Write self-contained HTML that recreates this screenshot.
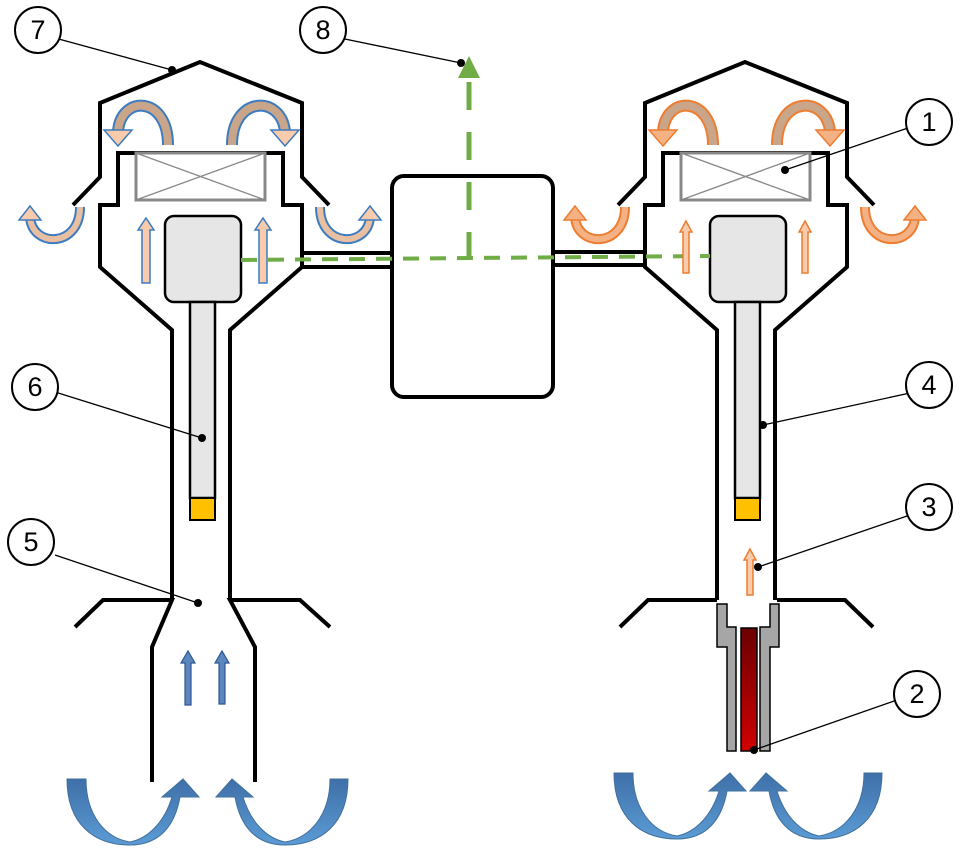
<!DOCTYPE html>
<html><head><meta charset="utf-8"><style>html,body{margin:0;padding:0;background:#fff}svg{display:block}</style></head>
<body>
<svg width="960" height="856" viewBox="0 0 960 856" xmlns="http://www.w3.org/2000/svg" font-family="Liberation Sans, sans-serif">
<defs>
<linearGradient id="red" x1="0" y1="0" x2="0" y2="1"><stop offset="0" stop-color="#6b0000"/><stop offset="1" stop-color="#d00000"/></linearGradient>
<linearGradient id="bl" x1="0" y1="0" x2="0" y2="1"><stop offset="0" stop-color="#3f6fa8"/><stop offset="1" stop-color="#5b9bd5"/></linearGradient>
<g id="unit" fill="none" stroke="#000" stroke-width="4" stroke-linejoin="miter">
  <polyline points="73,205 100,177 100,103 200,62 302,103 302,177 329,205"/>
  <polyline points="172,600 172,330 100,267 100,205 118,205 118,153 283,153 283,205 302,205 302,267 230,330 230,600"/>
</g>
<g id="filt">
  <rect x="136" y="153" width="129" height="47" fill="#fff" stroke="#888" stroke-width="3"/>
  <path d="M136,153 L265,200 M265,153 L136,200" stroke="#888" stroke-width="1.3"/>
  <rect x="165" y="216" width="76" height="86" rx="9" fill="#e6e6e6" stroke="#000" stroke-width="2.5"/>
  <rect x="190" y="302" width="25" height="196" fill="#e6e6e6" stroke="#000" stroke-width="2.5"/>
  <rect x="190" y="498" width="25" height="22" fill="#ffc000" stroke="#000" stroke-width="2"/>
</g>
<path id="bA" fill="url(#bl)" stroke="#41719c" stroke-width="1" d="M67,779 C67,825 95,845 130,845 C160,845 175,825 180,797 L199,797 L183,779 L162,797 L172,797 C165,820 150,838 130,842 C105,838 86,815 86,779 Z"/>
<path id="bB" fill="url(#bl)" stroke="#41719c" stroke-width="1" d="M348,779 C348,825 320,845 285,845 C255,845 240,825 235,797 L216,797 L232,779 L253,797 L243,797 C250,820 265,838 285,842 C310,838 330,815 330,779 Z"/>
</defs>

<use href="#unit"/>
<use href="#filt"/>
<use href="#unit" transform="translate(545,0)"/>
<use href="#filt" transform="translate(545,0)"/>

<g fill="none" stroke="#000" stroke-width="4">
<polyline points="75,627 103,600 172,600 152,647 152,782"/>
<polyline points="330,627 300,600 230,600 255,647 255,782"/>
<polyline points="620,627 648,600 717,600"/>
<polyline points="873,627 845,600 777,600"/>
<line x1="302" y1="253" x2="392" y2="253"/><line x1="302" y1="267" x2="392" y2="267"/>
<line x1="553" y1="252" x2="645" y2="252"/><line x1="553" y1="265" x2="645" y2="265"/>
<rect x="392" y="176" width="161" height="221" rx="12" fill="#fff"/>
</g>

<g fill="#a6a6a6" stroke="#000" stroke-width="1.5">
<polygon points="717,604 727,604 727,627 736,627 736,751 727,751 727,647 717,647"/>
<polygon points="779,604 770,604 770,627 760,627 760,751 770,751 770,647 779,647"/>
</g>
<rect x="741" y="628" width="16" height="123" fill="url(#red)" stroke="#000" stroke-width="1.5"/>

<g stroke="#70ad47" stroke-width="5" fill="none">
<line x1="241" y1="260" x2="710" y2="256" stroke-dasharray="16,11" stroke-width="4"/>
<line x1="469" y1="260" x2="469" y2="76" stroke-dasharray="28,22"/>
</g>
<polygon points="469,56 458,78 480,78" fill="#70ad47"/>

<g>
<path d="M168,145 C168,95 120,95 118,132" fill="none" stroke="#3d7cc0" stroke-width="12"/>
<path d="M168,145 C168,95 120,95 118,132" fill="none" stroke="#c9a58a" stroke-width="8"/>
<polygon points="104,130 132,130 118,146" fill="#f8cbad" stroke="#3d7cc0" stroke-width="1.5"/>
<path d="M232,145 C232,95 282,95 285,132" fill="none" stroke="#3d7cc0" stroke-width="12"/>
<path d="M232,145 C232,95 282,95 285,132" fill="none" stroke="#c9a58a" stroke-width="8"/>
<polygon points="271,130 299,130 285,146" fill="#f8cbad" stroke="#3d7cc0" stroke-width="1.5"/>
<path d="M80,207 C80,248 32,248 30,217" fill="none" stroke="#3d7cc0" stroke-width="10"/>
<path d="M80,207 C80,248 32,248 30,217" fill="none" stroke="#e8bfa0" stroke-width="6"/>
<polygon points="19,220 30,206 41,220" fill="#f8cbad" stroke="#3d7cc0" stroke-width="1.5"/>
<path d="M320,207 C320,248 368,248 370,217" fill="none" stroke="#3d7cc0" stroke-width="10"/>
<path d="M320,207 C320,248 368,248 370,217" fill="none" stroke="#e8bfa0" stroke-width="6"/>
<polygon points="359,220 370,206 381,220" fill="#f8cbad" stroke="#3d7cc0" stroke-width="1.5"/>
<g fill="#f8cbad" stroke="#3d7cc0" stroke-width="1.5">
<polygon points="142,283 142,230 138,230 146,218 154,230 150,230 150,283"/>
<polygon points="259,283 259,230 255,230 263,218 271,230 267,230 267,283"/>
</g>
<g fill="#5b87bd" stroke="#2f5597" stroke-width="1.2">
<polygon points="185,705 185,663 181,663 188,651 195,663 191,663 191,705"/>
<polygon points="219,704 219,663 215,663 222,651 229,663 225,663 225,704"/>
</g>
</g>

<g transform="translate(545,0)">
<path d="M168,145 C168,95 120,95 118,132" fill="none" stroke="#ed7d31" stroke-width="12"/>
<path d="M168,145 C168,95 120,95 118,132" fill="none" stroke="#c9a58a" stroke-width="8"/>
<polygon points="104,130 132,130 118,146" fill="#f4b183" stroke="#ed7d31" stroke-width="1.5"/>
<path d="M232,145 C232,95 282,95 285,132" fill="none" stroke="#ed7d31" stroke-width="12"/>
<path d="M232,145 C232,95 282,95 285,132" fill="none" stroke="#c9a58a" stroke-width="8"/>
<polygon points="271,130 299,130 285,146" fill="#f4b183" stroke="#ed7d31" stroke-width="1.5"/>
<path d="M80,207 C80,248 32,248 30,217" fill="none" stroke="#ed7d31" stroke-width="10"/>
<path d="M80,207 C80,248 32,248 30,217" fill="none" stroke="#f4b183" stroke-width="6"/>
<polygon points="19,220 30,206 41,220" fill="#f4b183" stroke="#ed7d31" stroke-width="1.5"/>
<path d="M320,207 C320,248 368,248 370,217" fill="none" stroke="#ed7d31" stroke-width="10"/>
<path d="M320,207 C320,248 368,248 370,217" fill="none" stroke="#f4b183" stroke-width="6"/>
<polygon points="359,220 370,206 381,220" fill="#f4b183" stroke="#ed7d31" stroke-width="1.5"/>
<g fill="#f8cbad" stroke="#ed7d31" stroke-width="1.5">
<polygon points="138,273 138,232 135,232 141,221 147,232 144,232 144,273"/>
<polygon points="257,273 257,232 254,232 260,221 266,232 263,232 263,273"/>
<polygon points="202,595 202,560 199,560 205,549 211,560 208,560 208,595"/>
</g>
</g>

<use href="#bA"/>
<use href="#bB"/>
<use href="#bA" transform="translate(547,-6)"/>
<use href="#bB" transform="translate(534,-6)"/>

<g stroke="#000" stroke-width="1.3">
<line x1="55" y1="38" x2="172" y2="70"/>
<line x1="340" y1="38" x2="461" y2="63"/>
<line x1="908" y1="128" x2="785" y2="170"/>
<line x1="910" y1="393" x2="763" y2="425"/>
<line x1="910" y1="515" x2="758" y2="567"/>
<line x1="897" y1="700" x2="754" y2="750"/>
<line x1="55" y1="392" x2="202" y2="438"/>
<line x1="55" y1="555" x2="198" y2="603"/>
</g>
<g fill="#000"><circle cx="172" cy="70" r="4"/><circle cx="461" cy="63" r="4"/><circle cx="785" cy="170" r="4"/><circle cx="763" cy="425" r="4"/><circle cx="758" cy="567" r="4"/><circle cx="754" cy="750" r="4"/><circle cx="202" cy="438" r="4"/><circle cx="198" cy="603" r="4"/></g>
<g fill="#fff" stroke="#000" stroke-width="2">
<circle cx="38" cy="30" r="23"/><circle cx="323" cy="30" r="23"/><circle cx="929" cy="122" r="23"/><circle cx="929" cy="385" r="23"/><circle cx="929" cy="507" r="23"/><circle cx="917" cy="694" r="23"/><circle cx="35" cy="387" r="23"/><circle cx="31" cy="542" r="23"/>
</g>
<g font-size="27" text-anchor="middle" fill="#000">
<text x="38" y="39">7</text><text x="323" y="39">8</text><text x="929" y="131">1</text><text x="929" y="394">4</text><text x="929" y="516">3</text><text x="917" y="703">2</text><text x="35" y="396">6</text><text x="31" y="551">5</text>
</g>
</svg>
</body></html>
